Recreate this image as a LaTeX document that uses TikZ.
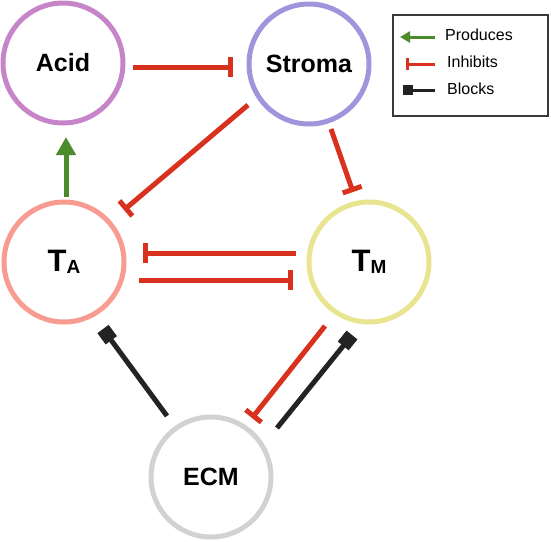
\documentclass[tikz,border=0pt]{standalone}
\usepackage{fontspec}
\setmainfont{Liberation Sans}
\usetikzlibrary{arrows.meta,calc}
\definecolor{cAcid}{HTML}{C785C9}
\definecolor{cStroma}{HTML}{9E95DC}
\definecolor{cTA}{HTML}{F89B90}
\definecolor{cTM}{HTML}{E9E48F}
\definecolor{cECM}{HTML}{D2D2D2}
\definecolor{cRed}{HTML}{D8321F}
\definecolor{cGreen}{HTML}{4B8B2B}
\definecolor{cBlack}{HTML}{232323}
\tikzset{
  cell/.style={circle, draw, line width=5pt, minimum size=120pt, inner sep=0pt, font=\bfseries\fontsize{25}{25}\selectfont},
  inh/.style={cRed, line width=5pt, -{Bar[width=20pt,line width=5pt]}},
  prod/.style={cGreen, line width=5pt, -{Triangle[width=19pt,length=18pt]}},
  blk/.style={cBlack, line width=5pt, -{Square[width=14pt,length=14pt]}},
  legtxt/.style={anchor=west, inner sep=0pt, font=\fontsize{16}{16}\selectfont},
}
\newcommand{\tsub}[2]{{\bfseries\fontsize{31}{31}\selectfont #1}\raisebox{-2.5pt}{\bfseries\fontsize{19}{19}\selectfont #2}}
\begin{document}
\begin{tikzpicture}[x=1pt,y=-1pt]
\useasboundingbox (0,0) rectangle (551,541);
\node[cell, draw=cAcid] (acid) at (63,63) {Acid};
\node[cell, draw=cStroma] (stroma) at (309,64) {Stroma};
\node[cell, draw=cTA] (ta) at (64,262) {\tsub{T}{A}};
\node[cell, draw=cTM] (tm) at (369,262) {\tsub{T}{M}};
\node[cell, draw=cECM] (ecm) at (211,477) {ECM};

\draw[inh] ($(acid)+(70,4)$) -- ($(stroma)+(-76,3)$);
\draw[inh] ($(stroma)+(-61,41)$) -- ($(ta)+(60,-52)$);
\draw[inh] ($(stroma)+(22,65)$) -- ($(tm)+(-16,-70)$);
\draw[prod] ($(ta)+(2,-65)$) -- ($(acid)+(3,74)$);
\draw[inh] ($(tm)+(-73,-9)$) -- ($(ta)+(79,-9)$);
\draw[inh] ($(ta)+(75,18)$) -- ($(tm)+(-76,18)$);
\draw[blk] ($(ecm)+(-44,-61)$) -- ($(ta)+(39,67)$);
\draw[inh] ($(tm)+(-44,64)$) -- ($(ecm)+(41,-59)$);
\draw[blk] ($(ecm)+(66,-49)$) -- ($(tm)+(-17,73)$);

% legend
\node[draw=cBlack!90, line width=1.5pt, minimum width=155pt, minimum height=101pt, inner sep=0pt, anchor=north west] (legend) at (392,14) {};
\coordinate (p1) at (435,37); \coordinate (p2) at (400,37);
\coordinate (i1) at (435,64); \coordinate (i2) at (406,64);
\coordinate (b1) at (435,90); \coordinate (b2) at (403,90);
\draw[cGreen, line width=3pt, -{Triangle[width=11pt,length=10pt]}] (p1) -- (p2);
\draw[cRed, line width=3pt, -{Bar[width=12pt,line width=3pt]}] (i1) -- (i2);
\draw[cBlack, line width=3pt, -{Square[width=10pt,length=10pt]}] (b1) -- (b2);
\node[legtxt] (lp) at (445,35) {Produces};
\node[legtxt] (li) at (447,62) {Inhibits};
\node[legtxt] (lb) at (447,89) {Blocks};
\end{tikzpicture}
\end{document}
